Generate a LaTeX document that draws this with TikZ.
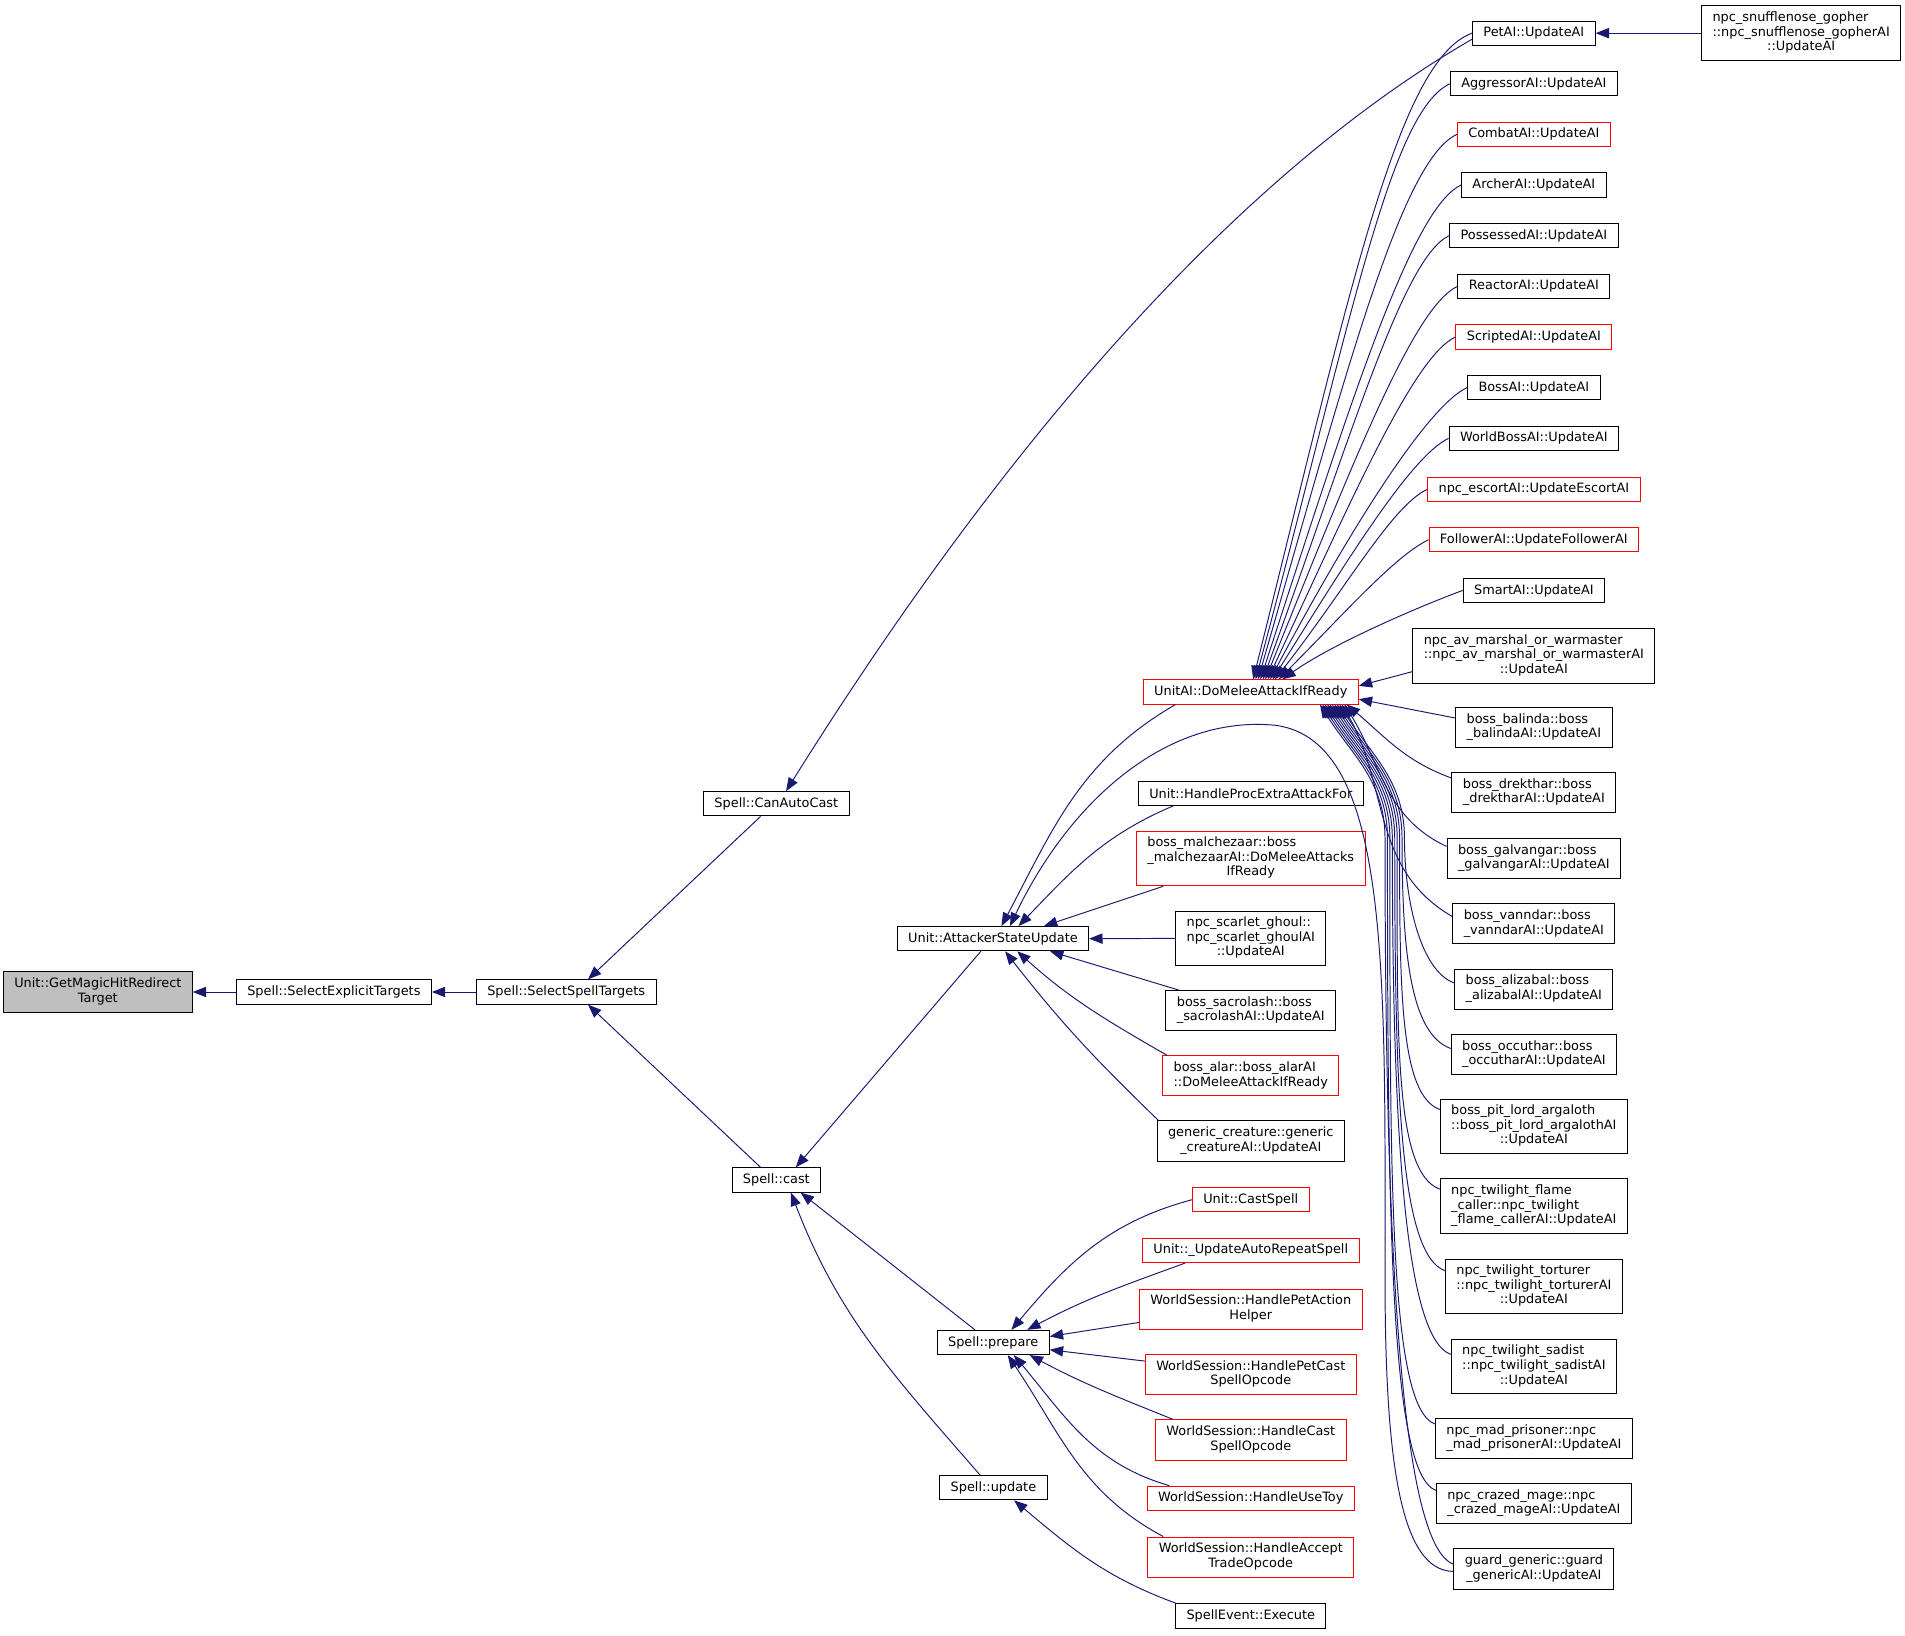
\documentclass[tikz,border=0pt]{standalone}
\usepackage{fontspec}
\setmainfont{DejaVu Sans}
\usetikzlibrary{arrows.meta}

\definecolor{edgeblue}{HTML}{191970}
\definecolor{rootgray}{HTML}{BFBFBF}

% lines above are left aligned, the last one is centred
\newcommand{\fnlines}[2]{\begin{tabular}{@{}l@{}}#1\\\multicolumn{1}{@{}c@{}}{#2}\end{tabular}}

\tikzset{
  fn/.style={draw=black, fill=white, line width=0.8pt, inner xsep=9pt, inner ysep=4.5pt, minimum height=20pt, font=\fontsize{10.6}{12}\selectfont},
  fnred/.style={fn, draw=red},
  fnroot/.style={fn, fill=rootgray},
  call/.style={draw=edgeblue, line width=0.8pt, -{Triangle[length=11pt,width=8.5pt]}}
}

\begin{document}
\begin{tikzpicture}[x=1pt, y=1pt]
		\useasboundingbox (0,0) rectangle (1568,-1345.8);
		% left part
		\node[fnroot] (getmagic) at (80.5,-816.5) {\fnlines{Unit::GetMagicHitRedirect}{Target}};
		\node[fn] (selexplicit) at (274.8,-816.5) {Spell::SelectExplicitTargets};
		\node[fn] (selspell) at (466,-816.5) {Spell::SelectSpellTargets};
		\node[fn] (canautocast) at (639,-661.6) {Spell::CanAutoCast};
		\node[fn] (cast) at (639,-971.2) {Spell::cast};
		\node[fn] (attacker) at (817.3,-772.6) {Unit::AttackerStateUpdate};
		\node[fn] (prepare) at (817.5,-1105) {Spell::prepare};
		\node[fn] (update) at (817.7,-1224.5) {Spell::update};
		% middle column
		\node[fnred] (domelee) at (1029.5,-569.5) {UnitAI::DoMeleeAttackIfReady};
		\node[fn] (procextra) at (1029.5,-653) {Unit::HandleProcExtraAttackFor};
		\node[fnred] (malchezaar) at (1029.5,-706.6) {\fnlines{boss\_malchezaar::boss\\\_malchezaarAI::DoMeleeAttacks}{IfReady}};
		\node[fn] (scarlet) at (1029.5,-772.4) {\fnlines{npc\_scarlet\_ghoul::\\npc\_scarlet\_ghoulAI}{::UpdateAI}};
		\node[fn] (sacrolash) at (1029.5,-831.9) {\fnlines{boss\_sacrolash::boss}{\_sacrolashAI::UpdateAI}};
		\node[fnred] (alar) at (1029.5,-885.5) {\fnlines{boss\_alar::boss\_alarAI}{::DoMeleeAttackIfReady}};
		\node[fn] (generic) at (1029.5,-939.1) {\fnlines{generic\_creature::generic}{\_creatureAI::UpdateAI}};
		\node[fnred] (castspell) at (1029.5,-987.5) {Unit::CastSpell};
		\node[fnred] (autorepeat) at (1029.5,-1029.2) {Unit::\_UpdateAutoRepeatSpell};
		\node[fnred] (petaction) at (1029.5,-1077.5) {\fnlines{WorldSession::HandlePetAction}{Helper}};
		\node[fnred] (petcast) at (1029.5,-1131.3) {\fnlines{WorldSession::HandlePetCast}{SpellOpcode}};
		\node[fnred] (castopcode) at (1029.5,-1185.2) {\fnlines{WorldSession::HandleCast}{SpellOpcode}};
		\node[fnred] (usetoy) at (1029.5,-1233.2) {WorldSession::HandleUseToy};
		\node[fnred] (accepttrade) at (1029.5,-1281.6) {\fnlines{WorldSession::HandleAccept}{TradeOpcode}};
		\node[fn] (spellevent) at (1029.5,-1330.2) {SpellEvent::Execute};
		% right column
		\node[fn] (petai) at (1262.5,-27.3) {PetAI::UpdateAI};
		\node[fn] (snufflenose) at (1482.5,-27.3) {\fnlines{npc\_snufflenose\_gopher\\::npc\_snufflenose\_gopherAI}{::UpdateAI}};
		\node[fn] (aggressor) at (1262.5,-69) {AggressorAI::UpdateAI};
		\node[fnred] (combat) at (1262.5,-110.6) {CombatAI::UpdateAI};
		\node[fn] (archer) at (1262.5,-152.3) {ArcherAI::UpdateAI};
		\node[fn] (possessed) at (1262.5,-194) {PossessedAI::UpdateAI};
		\node[fn] (reactor) at (1262.5,-235.7) {ReactorAI::UpdateAI};
		\node[fnred] (scripted) at (1262.5,-277.4) {ScriptedAI::UpdateAI};
		\node[fn] (bossai) at (1262.5,-319) {BossAI::UpdateAI};
		\node[fn] (worldboss) at (1262.5,-360.8) {WorldBossAI::UpdateAI};
		\node[fnred] (escort) at (1262.5,-402.8) {npc\_escortAI::UpdateEscortAI};
		\node[fnred] (follower) at (1262.5,-444.3) {FollowerAI::UpdateFollowerAI};
		\node[fn] (smart) at (1262.5,-486) {SmartAI::UpdateAI};
		\node[fn] (marshal) at (1262.5,-539.8) {\fnlines{npc\_av\_marshal\_or\_warmaster\\::npc\_av\_marshal\_or\_warmasterAI}{::UpdateAI}};
		\node[fn] (balinda) at (1262.5,-599) {\fnlines{boss\_balinda::boss}{\_balindaAI::UpdateAI}};
		\node[fn] (drekthar) at (1262.5,-652.4) {\fnlines{boss\_drekthar::boss}{\_drektharAI::UpdateAI}};
		\node[fn] (galvangar) at (1262.5,-706.7) {\fnlines{boss\_galvangar::boss}{\_galvangarAI::UpdateAI}};
		\node[fn] (vanndar) at (1262.5,-760.4) {\fnlines{boss\_vanndar::boss}{\_vanndarAI::UpdateAI}};
		\node[fn] (alizabal) at (1262.5,-814.1) {\fnlines{boss\_alizabal::boss}{\_alizabalAI::UpdateAI}};
		\node[fn] (occuthar) at (1262.5,-868) {\fnlines{boss\_occuthar::boss}{\_occutharAI::UpdateAI}};
		\node[fn] (argaloth) at (1262.5,-927.2) {\fnlines{boss\_pit\_lord\_argaloth\\::boss\_pit\_lord\_argalothAI}{::UpdateAI}};
		\node[fn] (flamecaller) at (1262.5,-992.8) {\fnlines{npc\_twilight\_flame\\\_caller::npc\_twilight}{\_flame\_callerAI::UpdateAI}};
		\node[fn] (torturer) at (1262.5,-1058.9) {\fnlines{npc\_twilight\_torturer\\::npc\_twilight\_torturerAI}{::UpdateAI}};
		\node[fn] (sadist) at (1262.5,-1124.8) {\fnlines{npc\_twilight\_sadist\\::npc\_twilight\_sadistAI}{::UpdateAI}};
		\node[fn] (madprisoner) at (1262.5,-1184.1) {\fnlines{npc\_mad\_prisoner::npc}{\_mad\_prisonerAI::UpdateAI}};
		\node[fn] (crazedmage) at (1262.5,-1237.7) {\fnlines{npc\_crazed\_mage::npc}{\_crazed\_mageAI::UpdateAI}};
		\node[fn] (guard) at (1262.5,-1291.4) {\fnlines{guard\_generic::guard}{\_genericAI::UpdateAI}};

		% left chain
		\draw[call] (selexplicit) -- (getmagic);
		\draw[call] (selspell) -- (selexplicit);
		\draw[call] ([xshift=-13pt]canautocast.south) -- ([xshift=18pt]selspell.north);
		\draw[call] ([xshift=-13pt]cast.north) -- ([xshift=18pt]selspell.south);
		\draw[call] ([yshift=-5pt]petai.west) to[out=210, in=58, looseness=0.8] ([xshift=8pt]canautocast.north);
		\draw[call] ([xshift=-10pt]attacker.south) -- ([xshift=16pt]cast.north);
		\draw[call] ([xshift=-15pt]prepare.north) -- ([xshift=20pt]cast.south);
		\draw[call] ([xshift=-11pt]update.north) to[out=131, in=-69] ([xshift=12pt]cast.south);
		\draw[call] ([xshift=-61pt]spellevent.north) to[out=160, in=-40] ([xshift=17pt]update.south);
		\draw[call] (snufflenose) -- (petai);

		% into Unit::AttackerStateUpdate
		\draw[call] ([xshift=-62pt]domelee.south) to[out=210, in=62] ([xshift=7pt]attacker.north);
		\draw[call] ([xshift=-64pt]procextra.south) to[out=203, in=46] ([xshift=21pt]attacker.north);
		\draw[call] ([yshift=-2pt]guard.west) .. controls (1152,-1293) and (1140,-1200) .. (1140,-1050)
			.. controls (1140,-800) and (1145,-610) .. (1050,-597)
			.. controls (960,-588) and (880,-660) .. ([xshift=14pt]attacker.north);
		\draw[call] ([xshift=-72pt]malchezaar.south) -- ([xshift=42pt]attacker.north);
		\draw[call] (scarlet.west) -- (attacker.east);
		\draw[call] ([xshift=-59pt]sacrolash.north) -- ([xshift=47pt]attacker.south);
		\draw[call] ([xshift=-69pt]alar.north) to[out=150, in=-42] ([xshift=20pt]attacker.south);
		\draw[call] ([xshift=-76pt]generic.north) to[out=136, in=-52] ([xshift=10pt]attacker.south);

		% into Spell::prepare
		\draw[call] (castspell.west) to[out=195, in=50] ([xshift=15pt]prepare.north);
		\draw[call] ([xshift=-54pt]autorepeat.south) to[out=200, in=28] ([xshift=28pt]prepare.north);
		\draw[call] ([yshift=-11pt]petaction.west) -- ([yshift=5pt]prepare.east);
		\draw[call] ([yshift=11pt]petcast.west) -- ([yshift=-6pt]prepare.east);
		\draw[call] ([xshift=-64pt]castopcode.north) to[out=158, in=-28] ([xshift=30pt]prepare.south);
		\draw[call] ([xshift=-67pt]usetoy.north) to[out=164, in=-50] ([xshift=17pt]prepare.south);
		\draw[call] ([xshift=-72pt]accepttrade.north) to[out=152, in=-56] ([xshift=12pt]prepare.south);

		% into UnitAI::DoMeleeAttackIfReady from above
		\draw[call] (petai.west) to[out=200, in=76, out distance=65pt, in distance=330pt] ([xshift=2pt]domelee.north);
		\draw[call] (aggressor.west) to[out=205, in=75, out distance=55pt, in distance=300pt] ([xshift=4pt]domelee.north);
		\draw[call] (combat.west) to[out=205, in=74, out distance=50pt, in distance=270pt] ([xshift=6pt]domelee.north);
		\draw[call] (archer.west) to[out=205, in=72, out distance=45pt, in distance=240pt] ([xshift=8pt]domelee.north);
		\draw[call] (possessed.west) to[out=205, in=70, out distance=42pt, in distance=215pt] ([xshift=10pt]domelee.north);
		\draw[call] (reactor.west) to[out=205, in=68, out distance=40pt, in distance=190pt] ([xshift=12pt]domelee.north);
		\draw[call] (scripted.west) to[out=205, in=65, out distance=38pt, in distance=165pt] ([xshift=14pt]domelee.north);
		\draw[call] (bossai.west) to[out=205, in=62, out distance=36pt, in distance=140pt] ([xshift=16pt]domelee.north);
		\draw[call] (worldboss.west) to[out=205, in=58, out distance=34pt, in distance=115pt] ([xshift=18pt]domelee.north);
		\draw[call] (escort.west) to[out=205, in=52, out distance=32pt, in distance=95pt] ([xshift=20pt]domelee.north);
		\draw[call] (follower.west) to[out=205, in=45, out distance=30pt, in distance=75pt] ([xshift=23pt]domelee.north);
		\draw[call] (smart.west) to[out=200, in=35, out distance=30pt, in distance=55pt] ([xshift=26pt]domelee.north);

		% into UnitAI::DoMeleeAttackIfReady from below
		\draw[call] ([yshift=-13pt]marshal.west) -- ([yshift=5pt]domelee.east);
		\draw[call] ([yshift=8pt]balinda.west) -- ([yshift=-6pt]domelee.east);
		\draw[call] ([yshift=12pt]drekthar.west) to[out=160, in=-40] ([xshift=79pt]domelee.south);
		\draw[call] ([yshift=10pt]galvangar.west) to[out=155, in=-58] ([xshift=77pt]domelee.south);
		\draw[call] ([yshift=6pt]vanndar.west) to[out=150, in=-60] ([xshift=75pt]domelee.south);
		\draw[call] ([yshift=5pt]alizabal.west) to[out=160, in=-90, out distance=30pt, in distance=50pt] (1156,-690) to[out=90, in=-58] ([xshift=73pt]domelee.south);
		\draw[call] ([yshift=5pt]occuthar.west) to[out=160, in=-90, out distance=35pt, in distance=95pt] (1154,-690) to[out=90, in=-58] ([xshift=71pt]domelee.south);
		\draw[call] ([yshift=14pt]argaloth.west) to[out=160, in=-90, out distance=35pt, in distance=125pt] (1152,-690) to[out=90, in=-58] ([xshift=69pt]domelee.south);
		\draw[call] ([yshift=14pt]flamecaller.west) to[out=160, in=-90, out distance=40pt, in distance=165pt] (1150,-690) to[out=90, in=-58] ([xshift=67pt]domelee.south);
		\draw[call] ([yshift=13pt]torturer.west) to[out=160, in=-90, out distance=40pt, in distance=205pt] (1148,-690) to[out=90, in=-58] ([xshift=65pt]domelee.south);
		\draw[call] ([yshift=10pt]sadist.west) to[out=160, in=-90, out distance=40pt, in distance=245pt] (1146,-690) to[out=90, in=-58] ([xshift=63pt]domelee.south);
		\draw[call] ([yshift=12pt]madprisoner.west) to[out=160, in=-90, out distance=40pt, in distance=280pt] (1144,-690) to[out=90, in=-58] ([xshift=61pt]domelee.south);
		\draw[call] ([yshift=11pt]crazedmage.west) to[out=160, in=-90, out distance=40pt, in distance=315pt] (1142,-690) to[out=90, in=-58] ([xshift=59pt]domelee.south);
		\draw[call] ([yshift=4pt]guard.west) to[out=160, in=-90, out distance=45pt, in distance=350pt] (1140,-690) to[out=90, in=-58] ([xshift=57pt]domelee.south);
\end{tikzpicture}
\end{document}
